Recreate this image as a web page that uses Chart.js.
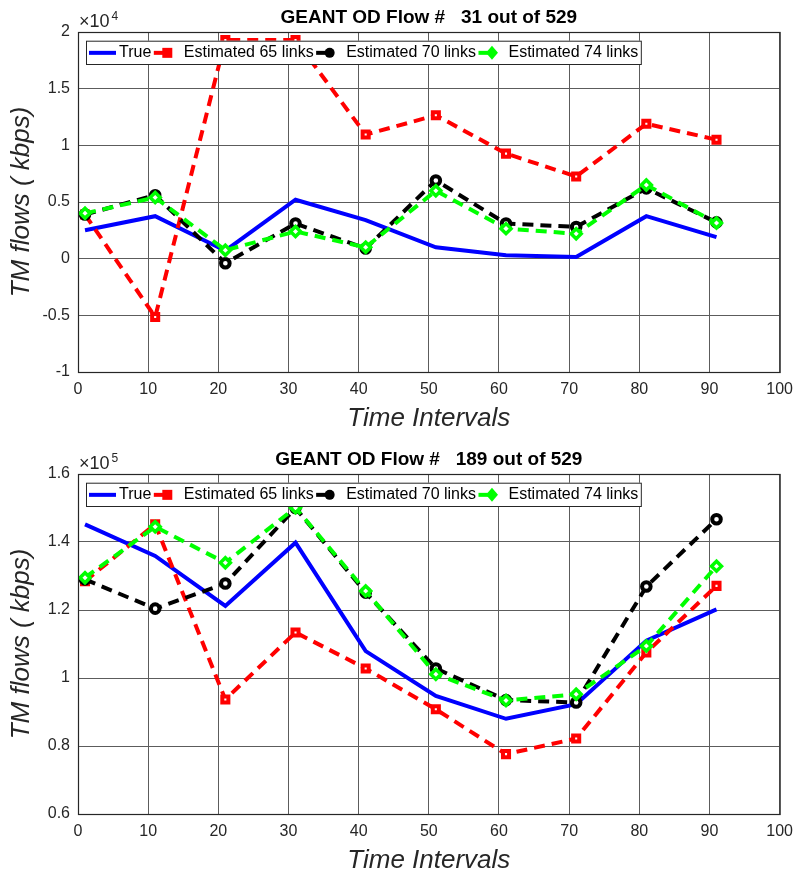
<!DOCTYPE html>
<html>
<head>
<meta charset="utf-8">
<script src="https://cdn.jsdelivr.net/npm/chart.js@4.4.1/dist/chart.umd.min.js"></script>
<style>
html, body { margin: 0; padding: 0; background: #fff; overflow: hidden; }
.wrap { position: relative; width: 801px; height: 872px; }
canvas { position: absolute; left: 0; }
</style>
</head>
<body>
<div class="wrap">
  <canvas id="flow31" width="801" height="442" style="top:0"></canvas>
  <canvas id="flow189" width="801" height="442" style="top:442px"></canvas>
</div>
<script>
// Intervalles de temps (abscisses communes)
const timeSteps = [1, 11, 21, 31, 41, 51, 61, 71, 81, 91];

// Flux OD 31 (kbps)
const true31   = [2500, 3750, 700, 5200, 3400, 1000, 300, 150, 3750, 1900];
const est65_31 = [3900, -5150, 19300, 19300, 10950, 12650, 9270, 7250, 11900, 10500];
const est70_31 = [3900, 5600, -400, 3100, 900, 6900, 3100, 2800, 6200, 3200];
const est74_31 = [4000, 5400, 750, 2400, 1000, 6000, 2650, 2200, 6500, 3150];

// Flux OD 189 (kbps)
const true189   = [145200, 135900, 121200, 139800, 107900, 94700, 88000, 92300, 111000, 120200];
const est65_189 = [128500, 145200, 93700, 113400, 102800, 90800, 77600, 82200, 107500, 127100];
const est70_189 = [129000, 120400, 127800, 150000, 125100, 102800, 93500, 92800, 126900, 146700];
const est74_189 = [129500, 144500, 133900, 150100, 125600, 101100, 93400, 95200, 109400, 132900];

const seriesLabels = ['True', 'Estimated 65 links', 'Estimated 70 links', 'Estimated 74 links'];

const FONT = '"Liberation Sans", Arial, sans-serif';
const AXIS_TXT = '#262626';

const toPoints = vals => vals.map((v, i) => ({ x: timeSteps[i], y: v }));

function buildDatasets(t, e65, e70, e74) {
    return [
        {
            label: seriesLabels[0], data: toPoints(t), order: 4,
            borderColor: '#0000ff', borderWidth: 4, pointRadius: 0, mkType: 'none'
        },
        {
            label: seriesLabels[1], data: toPoints(e65), order: 3,
            borderColor: '#ff0000', borderWidth: 4, borderDash: [11, 7],
            pointStyle: 'rect', pointRadius: 4.3, pointBorderWidth: 4,
            pointBorderColor: '#ff0000', pointBackgroundColor: '#fff', mkType: 'rect'
        },
        {
            label: seriesLabels[2], data: toPoints(e70), order: 2,
            borderColor: '#000000', borderWidth: 4, borderDash: [11, 7],
            pointStyle: 'circle', pointRadius: 4.3, pointBorderWidth: 4,
            pointBorderColor: '#000000', pointBackgroundColor: '#fff', mkType: 'circle'
        },
        {
            label: seriesLabels[3], data: toPoints(e74), order: 1,
            borderColor: '#00ff00', borderWidth: 4, borderDash: [11, 7],
            pointStyle: 'rectRot', pointRadius: 5, pointBorderWidth: 3.5,
            pointBorderColor: '#00ff00', pointBackgroundColor: '#fff', mkType: 'diamond'
        }
    ];
}

// Cadre, titre, exposant et légende façon MATLAB
const matlabDecor = {
    id: 'matlabDecor',
    afterDraw(chart, args, opts) {
        const { ctx, chartArea: a } = chart;
        ctx.save();

        ctx.strokeStyle = AXIS_TXT;
        ctx.lineWidth = 1.2;
        ctx.strokeRect(a.left + 0.5, a.top + 0.5, a.right - a.left, a.bottom - a.top);

        ctx.fillStyle = '#000';
        ctx.font = 'bold 19px ' + FONT;
        ctx.textAlign = 'center';
        ctx.textBaseline = 'alphabetic';
        ctx.fillText(opts.title, (a.left + a.right) / 2, a.top - 9);

        ctx.fillStyle = AXIS_TXT;
        ctx.textAlign = 'left';
        ctx.font = '18px ' + FONT;
        ctx.fillText('\u00d710', a.left + 1, a.top - 5);
        const w10 = ctx.measureText('\u00d710').width;
        ctx.font = '12px ' + FONT;
        ctx.fillText(opts.exponent, a.left + 3 + w10, a.top - 12);

        // légende
        ctx.font = '16px ' + FONT;
        const ds = chart.data.datasets;
        const items = ds.map(d => ({ d, w: ctx.measureText(d.label).width }));
        const boxX = a.left + 8, boxY = a.top + 8.7, boxH = 23.3;
        let boxW = 3;
        items.forEach(it => { boxW += 30 + it.w + 2.5; });
        ctx.fillStyle = '#fff';
        ctx.fillRect(boxX, boxY, boxW, boxH);
        ctx.strokeStyle = AXIS_TXT;
        ctx.lineWidth = 1;
        ctx.strokeRect(boxX + 0.5, boxY + 0.5, boxW, boxH);

        const cy = boxY + boxH / 2 + 0.5;
        let x = boxX + 3;
        items.forEach(({ d, w }) => {
            ctx.strokeStyle = d.borderColor;
            ctx.fillStyle = d.borderColor;
            ctx.lineWidth = 4;
            ctx.beginPath();
            if (d.mkType === 'none') {
                ctx.moveTo(x, cy); ctx.lineTo(x + 27, cy);
            } else {
                ctx.moveTo(x, cy); ctx.lineTo(x + 10, cy);
            }
            ctx.stroke();
            const mx = x + 13.5;
            ctx.beginPath();
            if (d.mkType === 'rect') {
                ctx.rect(mx - 5, cy - 5, 10, 10);
            } else if (d.mkType === 'circle') {
                ctx.arc(mx, cy, 5, 0, Math.PI * 2);
            } else if (d.mkType === 'diamond') {
                ctx.moveTo(mx, cy - 7); ctx.lineTo(mx + 6, cy);
                ctx.lineTo(mx, cy + 7); ctx.lineTo(mx - 6, cy);
                ctx.closePath();
            }
            if (d.mkType !== 'none') ctx.fill();
            ctx.fillStyle = '#000';
            ctx.textBaseline = 'middle';
            ctx.fillText(d.label, x + 30, cy);
            x += 30 + w + 2.5;
        });

        ctx.restore();
    }
};

function makeChart(id, datasets, yMin, yMax, yStep, factor, title, exponent) {
    return new Chart(document.getElementById(id), {
        type: 'line',
        data: { datasets },
        plugins: [matlabDecor],
        options: {
            responsive: false,
            animation: false,
            layout: { padding: { top: 32, right: 18, left: 0, bottom: 0 } },
            elements: { line: { tension: 0 } },
            plugins: {
                legend: { display: false },
                tooltip: { enabled: false },
                matlabDecor: { title, exponent }
            },
            scales: {
                x: {
                    type: 'linear', min: 0, max: 100,
                    ticks: { stepSize: 10, color: AXIS_TXT, font: { size: 16, family: FONT }, padding: 8, maxRotation: 0 },
                    grid: { color: '#5c5c5c', lineWidth: 1, drawTicks: false },
                    border: { display: false },
                    title: {
                        display: true, text: 'Time Intervals', color: AXIS_TXT,
                        font: { size: 26, style: 'italic', family: FONT },
                        padding: { top: 0, bottom: 8 }
                    },
                    afterFit: s => { s.height = 70; }
                },
                y: {
                    type: 'linear', min: yMin, max: yMax,
                    ticks: {
                        stepSize: yStep, color: AXIS_TXT, font: { size: 16, family: FONT }, padding: 8,
                        callback: v => String(parseFloat((v / factor).toFixed(2)))
                    },
                    grid: { color: '#5c5c5c', lineWidth: 1, drawTicks: false },
                    border: { display: false },
                    title: {
                        display: true, text: 'TM flows ( kbps)', color: AXIS_TXT,
                        font: { size: 26, style: 'italic', family: FONT },
                        padding: { top: 6, bottom: 0 }
                    },
                    afterFit: s => { s.width = 78; }
                }
            }
        }
    });
}

makeChart('flow31', buildDatasets(true31, est65_31, est70_31, est74_31),
    -10000, 20000, 5000, 1e4, 'GEANT OD Flow #   31 out of 529', '4');
makeChart('flow189', buildDatasets(true189, est65_189, est70_189, est74_189),
    60000, 160000, 20000, 1e5, 'GEANT OD Flow #   189 out of 529', '5');
</script>
</body>
</html>
